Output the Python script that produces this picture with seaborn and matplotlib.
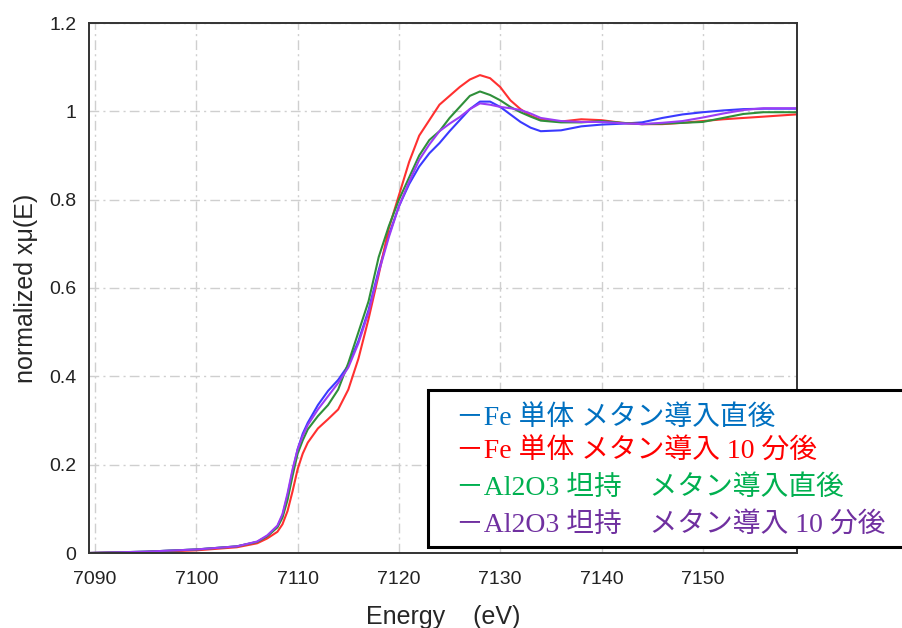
import matplotlib
matplotlib.use("Agg")
import matplotlib.pyplot as plt
import matplotlib.patches as mpatches
import seaborn as sns
import pandas as pd

# XANES data
energy = [7089.4, 7095, 7100, 7104, 7106, 7107, 7108, 7108.5, 7109, 7109.5,
          7110, 7110.5, 7111, 7112, 7113, 7114, 7115, 7116, 7117, 7118,
          7119, 7120, 7121, 7122, 7123, 7124, 7125, 7126, 7127, 7128,
          7129, 7130, 7131, 7132, 7133, 7134, 7136, 7138, 7140, 7142,
          7144, 7146, 7148, 7150, 7152, 7154, 7156, 7159.2]

fe_0min = [0.0, 0.003, 0.008, 0.015, 0.025, 0.038, 0.06, 0.085, 0.13, 0.185,
           0.235, 0.27, 0.295, 0.335, 0.367, 0.392, 0.425, 0.48, 0.55, 0.64,
           0.72, 0.785, 0.835, 0.875, 0.905, 0.928, 0.955, 0.98, 1.005, 1.022,
           1.022, 1.01, 0.993, 0.976, 0.963, 0.955, 0.957, 0.966, 0.970, 0.972,
           0.975, 0.985, 0.993, 0.998, 1.002, 1.005, 1.006, 1.006]

fe_10min = [0.0, 0.002, 0.006, 0.013, 0.022, 0.033, 0.048, 0.065, 0.095, 0.14,
            0.19, 0.225, 0.25, 0.282, 0.303, 0.325, 0.37, 0.44, 0.53, 0.63,
            0.735, 0.81, 0.885, 0.945, 0.98, 1.015, 1.035, 1.055, 1.072, 1.082,
            1.075, 1.055, 1.025, 1.005, 0.99, 0.981, 0.977, 0.982, 0.980, 0.974,
            0.971, 0.971, 0.974, 0.978, 0.982, 0.985, 0.988, 0.993]

al_0min = [0.0, 0.003, 0.008, 0.015, 0.025, 0.038, 0.058, 0.08, 0.12, 0.175,
           0.225, 0.255, 0.28, 0.31, 0.335, 0.37, 0.43, 0.5, 0.57, 0.67,
           0.74, 0.8, 0.85, 0.9, 0.935, 0.955, 0.985, 1.01, 1.035, 1.045,
           1.037, 1.025, 1.01, 0.998, 0.988, 0.979, 0.975, 0.975, 0.978, 0.974,
           0.971, 0.972, 0.974, 0.976, 0.985, 0.994, 0.998, 0.998]

al_10min = [0.0, 0.003, 0.008, 0.015, 0.026, 0.04, 0.062, 0.088, 0.135, 0.19,
            0.235, 0.265, 0.29, 0.325, 0.355, 0.385, 0.42, 0.475, 0.545, 0.635,
            0.715, 0.785, 0.84, 0.89, 0.925, 0.955, 0.972, 0.987, 1.005, 1.018,
            1.015, 1.01, 1.007, 1.003, 0.995, 0.985, 0.978, 0.976, 0.976, 0.973,
            0.971, 0.974, 0.978, 0.986, 0.995, 1.003, 1.007, 1.007]

series_names = ["－Fe 単体 メタン導入直後", "－Fe 単体 メタン導入 10 分後",
                "－Al2O3 坦持　メタン導入直後", "－Al2O3 坦持　メタン導入 10 分後"]
line_colors = ["#3a3aff", "#ff3030", "#2f8f3a", "#9b3cf5"]
text_colors = ["#0070c0", "#ff0000", "#00b050", "#7030a0"]

x_ticks = [7090, 7100, 7110, 7120, 7130, 7140, 7150]
y_ticks = [0, 0.2, 0.4, 0.6, 0.8, 1.0, 1.2]
y_tick_labels = ["0", "0.2", "0.4", "0.6", "0.8", "1", "1.2"]

df = pd.concat([
    pd.DataFrame({"Energy": energy, "mu": vals, "sample": name})
    for name, vals in zip(series_names, [fe_0min, fe_10min, al_0min, al_10min])
])

sns.set_style("white")
plt.rcParams["font.family"] = ["Liberation Sans", "DejaVu Sans"]

fig = plt.figure(figsize=(9.03, 6.28), dpi=100)
ax = fig.add_axes([89 / 903, 75 / 628, 708 / 903, 530 / 628])

sns.lineplot(data=df, x="Energy", y="mu", hue="sample", palette=line_colors,
             linewidth=1.5, ax=ax, legend=False, sort=False)

ax.set_xlim(7089.4, 7159.3)
ax.set_ylim(0, 1.2)
ax.set_xticks(x_ticks)
ax.set_yticks(y_ticks)
ax.set_yticklabels(y_tick_labels)
ax.grid(True, linestyle=(0, (7, 3, 1.5, 3)), color="#cfcfcf", linewidth=1.0)
ax.tick_params(axis="both", direction="in", length=7, width=1.2, colors="#222222",
               labelsize=14, top=False, right=False)
ax.tick_params(axis="x", pad=13)
ax.tick_params(axis="y", pad=9)
for spine in ax.spines.values():
    spine.set_color("#333333")
    spine.set_linewidth(1.4)

ax.set_xlabel("Energy    (eV)", fontsize=18, labelpad=12)
ax.set_ylabel("normalized xμ(E)", fontsize=18, labelpad=8)

# legend box drawn as text in a framed rectangle
rect = mpatches.Rectangle((428 / 903, 81 / 628), 480 / 903, 157 / 628,
                          transform=fig.transFigure, facecolor="white",
                          edgecolor="black", linewidth=2.2, zorder=5)
fig.patches.append(rect)
for i, (name, col) in enumerate(zip(series_names, text_colors)):
    y_px = [418, 452, 488, 525][i]
    fig.text(456 / 903, 1 - y_px / 628, name, color=col, fontsize=20,
             va="center", ha="left", zorder=6,
             family=["Liberation Serif", "Noto Sans CJK JP"])

fig.savefig("out.png", dpi=100)
